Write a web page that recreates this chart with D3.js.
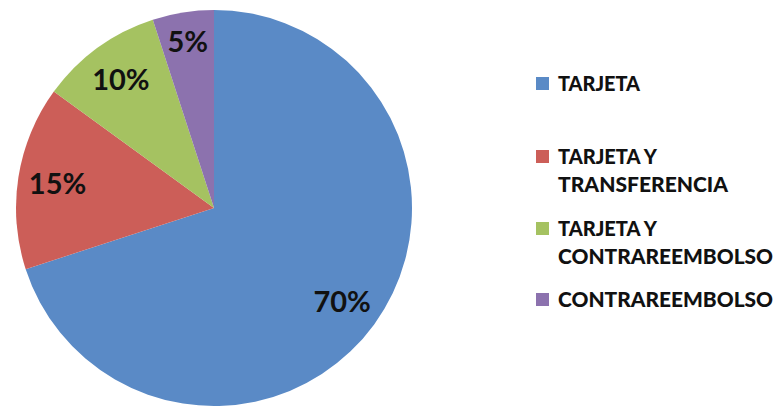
<!DOCTYPE html>
<html>
<head>
<meta charset="utf-8">
<script src="https://cdn.jsdelivr.net/npm/d3@7"></script>
<style>
  html, body { margin: 0; padding: 0; background: #ffffff; }
  svg { display: block; }
  text { font-family: Lato, "Open Sans", sans-serif; font-weight: 900; fill: #111111; }
</style>
</head>
<body>
<svg id="chart" width="777" height="407"></svg>
<script>
// Payment methods and their share of orders (%)
const categories = ["TARJETA", "TARJETA Y TRANSFERENCIA", "TARJETA Y CONTRAREEMBOLSO", "CONTRAREEMBOLSO"];
const values = [70, 15, 10, 5];
const valueLabels = ["70%", "15%", "10%", "5%"];
// Legend entries wrapped onto lines
const legendLines = [["TARJETA"], ["TARJETA Y", "TRANSFERENCIA"], ["TARJETA Y", "CONTRAREEMBOLSO"], ["CONTRAREEMBOLSO"]];
const colors = ["#5A8AC6", "#CC5E58", "#A5C261", "#8C72AE"];

const svg = d3.select("#chart");
const cx = 214, cy = 208, radius = 198;

const color = d3.scaleOrdinal().domain(categories).range(colors);

const pie = d3.pie().sort(null).value(d => d.value);
const data = categories.map((c, i) => ({ name: c, value: values[i], label: valueLabels[i] }));
const arcs = pie(data);

const arc = d3.arc().innerRadius(0).outerRadius(radius);
const labelArc = d3.arc().innerRadius(radius * 0.8).outerRadius(radius * 0.8);
const smallLabelArc = d3.arc().innerRadius(radius * 0.85).outerRadius(radius * 0.85);

const g = svg.append("g").attr("transform", `translate(${cx},${cy})`);

g.selectAll("path.slice")
  .data(arcs)
  .join("path")
  .attr("class", "slice")
  .attr("d", arc)
  .attr("fill", d => color(d.data.name));

g.selectAll("text.value")
  .data(arcs)
  .join("text")
  .attr("class", "value")
  .attr("transform", d => {
    // the narrowest slice carries its label further out
    const a = (d.endAngle - d.startAngle) < 0.4 ? smallLabelArc : labelArc;
    return `translate(${a.centroid(d)})`;
  })
  .attr("text-anchor", "middle")
  .attr("dy", "0.36em")
  .style("font-size", "29px")
  .style("font-weight", "bold")
  .text(d => d.data.label);

// Legend
const legendX = 536;
const legendTops = [77, 150, 222, 293];
const lineGap = 28;
// rendered width of each legend line, condensed like the original face
const lineWidth = { "TARJETA": 82, "TARJETA Y": 99, "TRANSFERENCIA": 170, "CONTRAREEMBOLSO": 215 };
const legend = svg.append("g");

categories.forEach((c, i) => {
  const item = legend.append("g").attr("transform", `translate(${legendX},${legendTops[i]})`);
  item.append("rect")
    .attr("x", 0).attr("y", 0)
    .attr("width", 13).attr("height", 13)
    .attr("fill", color(c));
  legendLines[i].forEach((line, j) => {
    item.append("text")
      .attr("x", 22)
      .attr("y", 14 + j * lineGap)
      .attr("textLength", lineWidth[line])
      .attr("lengthAdjust", "spacingAndGlyphs")
      .style("font-size", "20px")
      .text(line);
  });
});
</script>
</body>
</html>
